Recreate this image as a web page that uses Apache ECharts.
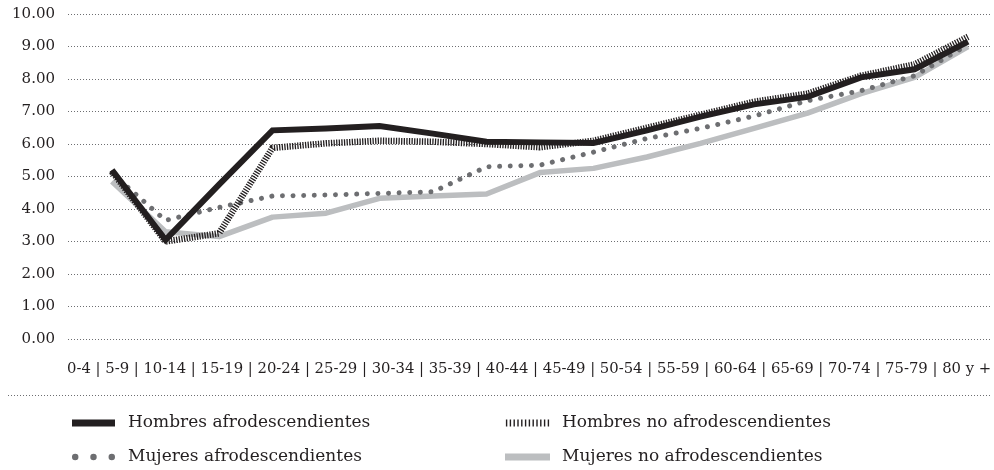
<!DOCTYPE html>
<html>
<head>
<meta charset="utf-8">
<script src="https://cdn.jsdelivr.net/npm/echarts@6/dist/echarts.min.js"></script>
<style>
  html, body { margin: 0; padding: 0; background: #ffffff; }
  #chart { width: 994px; height: 470px; }
</style>
</head>
<body>
<div id="chart"></div>
<script>
// ---- Data ----
const categories = ['0-4', '5-9', '10-14', '15-19', '20-24', '25-29', '30-34', '35-39', '40-44', '45-49', '50-54', '55-59', '60-64', '65-69', '70-74', '75-79', '80 y +'];
const seriesNames = ['Hombres afrodescendientes', 'Hombres no afrodescendientes', 'Mujeres afrodescendientes', 'Mujeres no afrodescendientes'];
const hombresAfro   = [5.20, 3.05, 4.75, 6.42, 6.48, 6.55, 6.32, 6.07, 6.05, 6.03, 6.42, 6.84, 7.22, 7.45, 8.05, 8.30, 9.15];
const hombresNoAfro = [5.15, 3.00, 3.25, 5.88, 6.02, 6.10, 6.07, 6.00, 5.90, 6.10, 6.50, 6.90, 7.30, 7.55, 8.10, 8.45, 9.30];
const mujeresAfro   = [5.10, 3.65, 4.05, 4.40, 4.43, 4.48, 4.53, 5.30, 5.35, 5.75, 6.17, 6.48, 6.86, 7.33, 7.64, 8.10, 9.05];
const mujeresNoAfro = [4.85, 3.30, 3.15, 3.75, 3.87, 4.33, 4.40, 4.46, 5.12, 5.25, 5.60, 6.02, 6.48, 6.95, 7.55, 8.05, 9.00];
const yMin = 0, yMax = 10, yStep = 1;

// ---- Styling ----
const FONT = 'DejaVu Serif';
const TXT = '#231f20';
const C_BLACK = '#231f20';
const C_DOT = '#6d6e71';
const C_LIGHT = '#bcbec0';
const GRID_C = '#6d6e71';

// legend icon paths
function hatchPath() {
  let p = 'path://';
  for (let i = 0; i < 12; i++) {
    const x = i * 3.8;
    p += 'M' + x + ',0h1.4v7h-1.4z';
  }
  return p;
}
function dotsPath() {
  let p = 'path://';
  [0, 17, 34].forEach(function (x) {
    p += 'M' + x + ',3a3,3 0 1,0 6,0a3,3 0 1,0 -6,0z';
  });
  return p;
}

const chart = echarts.init(document.getElementById('chart'), null, { renderer: 'canvas' });

const legendText = { fontFamily: FONT, fontSize: 17, color: TXT, lineHeight: 20 };

const option = {
  animation: false,
  backgroundColor: '#ffffff',
  textStyle: { fontFamily: FONT, color: TXT },
  grid: [
    { left: 68, right: 4, top: 14, bottom: 131, containLabel: false },
    { left: 112, right: 26, top: 14, bottom: 131, containLabel: false }
  ],
  xAxis: [
    { gridIndex: 0, type: 'value', show: false, min: 0, max: 1 },
    {
      gridIndex: 1, type: 'category', data: categories, boundaryGap: false,
      axisLine: { show: false }, axisTick: { show: false }, axisLabel: { show: false }, splitLine: { show: false }
    }
  ],
  yAxis: [
    {
      gridIndex: 0, type: 'value', min: yMin, max: yMax, interval: yStep,
      axisLine: { show: false }, axisTick: { show: false },
      axisLabel: {
        margin: 13, fontFamily: FONT, fontSize: 15, color: TXT,
        formatter: function (v) { return v.toFixed(2); }
      },
      splitLine: { show: true, lineStyle: { color: GRID_C, width: 1, type: [1, 2] } }
    },
    {
      gridIndex: 1, type: 'value', min: yMin, max: yMax, interval: yStep, show: false,
      splitLine: { show: false }
    }
  ],
  legend: [
    {
      left: 72, top: 413, height: 57, padding: 0, orient: 'vertical', itemGap: 14, itemWidth: 43, itemHeight: 7,
      textStyle: Object.assign({ padding: [0, 0, 0, 8] }, legendText),
      data: [
        { name: seriesNames[0], icon: 'rect' },
        { name: seriesNames[2], icon: dotsPath() }
      ]
    },
    {
      left: 505, top: 413, height: 57, padding: 0, orient: 'vertical', itemGap: 14, itemWidth: 45, itemHeight: 7,
      textStyle: Object.assign({ padding: [0, 0, 0, 7] }, legendText),
      data: [
        { name: seriesNames[1], icon: hatchPath() },
        { name: seriesNames[3], icon: 'rect' }
      ]
    }
  ],
  graphic: [
    {
      type: 'text', left: 67, top: 362, silent: true,
      style: { text: categories.join(' | '), fontFamily: FONT, fontSize: 14.8, fill: TXT }
    },
    {
      type: 'line', silent: true,
      shape: { x1: 8, y1: 395.5, x2: 990, y2: 395.5 },
      style: { stroke: GRID_C, lineWidth: 1, lineDash: [1, 2] }
    }
  ],
  series: [
    {
      name: seriesNames[3], type: 'line', xAxisIndex: 1, yAxisIndex: 1, data: mujeresNoAfro,
      symbol: 'none', z: 2, color: C_LIGHT,
      lineStyle: { color: C_LIGHT, width: 5.5, join: 'round' }
    },
    {
      name: seriesNames[2], type: 'line', xAxisIndex: 1, yAxisIndex: 1, data: mujeresAfro,
      symbol: 'none', z: 3, color: C_DOT,
      lineStyle: { color: C_DOT, width: 5, type: [0.01, 10.6], cap: 'round', join: 'round' }
    },
    {
      name: seriesNames[0], type: 'line', xAxisIndex: 1, yAxisIndex: 1, data: hombresAfro,
      symbol: 'none', z: 4, color: C_BLACK,
      lineStyle: { color: C_BLACK, width: 6, join: 'miter' }
    },
    {
      name: seriesNames[1], type: 'line', xAxisIndex: 1, yAxisIndex: 1, data: hombresNoAfro,
      symbol: 'none', z: 5, color: C_BLACK,
      lineStyle: { color: C_BLACK, width: 6.5, type: [1.3, 1.3], join: 'miter' }
    }
  ]
};

chart.setOption(option);
</script>
</body>
</html>
